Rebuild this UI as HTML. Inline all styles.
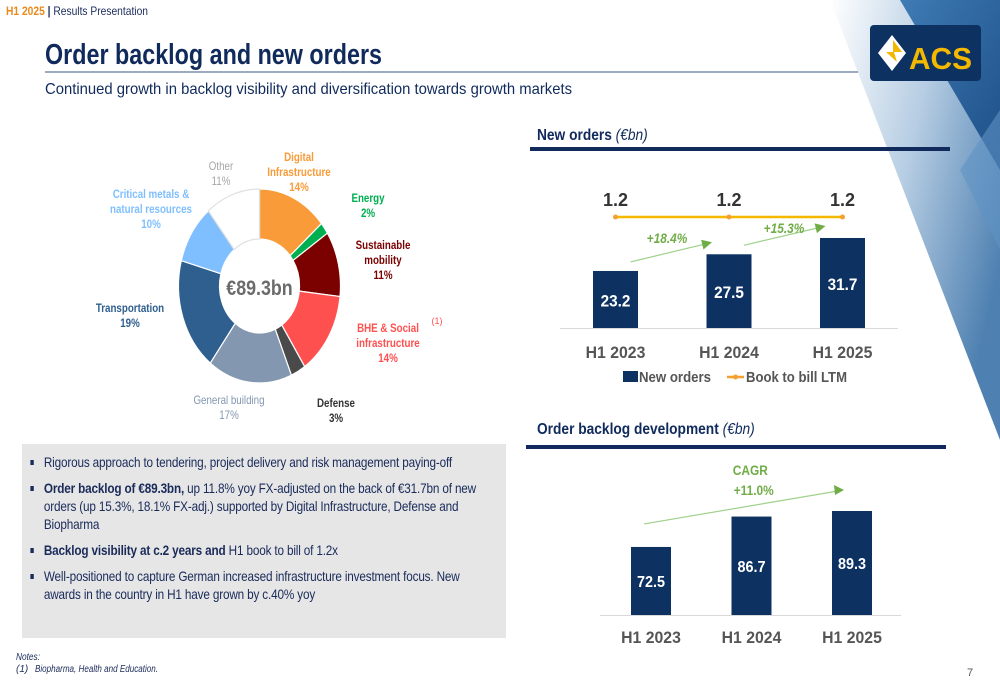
<!DOCTYPE html>
<html><head><meta charset="utf-8">
<style>
html,body{margin:0;padding:0;background:#fff;}
#page{position:relative;width:1000px;height:685px;overflow:hidden;font-family:"Liberation Sans",sans-serif;}
svg text{font-family:"Liberation Sans",sans-serif;}
#bullets{position:absolute;left:22px;top:444px;width:484px;height:194px;background:#e6e6e6;overflow:hidden;}
#bullets ul{margin:0;padding:9px 0 0 0;list-style:none;width:548px;transform:scaleX(0.84);transform-origin:0 0;}
#bullets li{position:relative;padding-left:26px;font-size:14px;line-height:18px;color:#1a2b5a;margin-bottom:8px;letter-spacing:-0.2px;}
#bullets li:before{content:"";position:absolute;left:10px;top:7px;width:4px;height:5px;background:#1a2b5a;}
#bullets b{font-weight:bold;}
</style></head>
<body>
<div id="page">
<svg id="svg" width="1000" height="685" viewBox="0 0 1000 685" style="position:absolute;left:0;top:0">
<defs>
<linearGradient id="g1" x1="0" y1="0" x2="1" y2="0.6">
<stop offset="0" stop-color="#ffffff"/><stop offset="0.5" stop-color="#a9c4de"/><stop offset="1" stop-color="#2f6aa3"/>
</linearGradient>
<linearGradient id="g2" x1="0" y1="0" x2="1" y2="1">
<stop offset="0" stop-color="#3f7bb5"/><stop offset="1" stop-color="#1d4f86"/>
</linearGradient>
</defs>
<g>
<polygon points="830,0 1000,0 1000,440" fill="url(#g1)" opacity="0.85"/>
<polygon points="900,0 1000,0 1000,170" fill="url(#g2)"/>
<polygon points="960,170 1000,110 1000,250" fill="#5f92c4" opacity="0.6"/>
</g>
<text x="6" y="15" font-size="12" font-weight="bold" fill="#e98a1c" textLength="142" lengthAdjust="spacingAndGlyphs">H1 2025 <tspan fill="#1a2b5a">| </tspan><tspan fill="#1a2b5a" font-weight="normal">Results Presentation</tspan></text>
<text x="45" y="64" font-size="29" font-weight="bold" fill="#102a5c" textLength="337" lengthAdjust="spacingAndGlyphs">Order backlog and new orders</text>
<line x1="45" y1="72" x2="858" y2="72" stroke="#7d8fab" stroke-width="1.5"/>
<text x="45" y="94" font-size="16" fill="#102a5c" textLength="527" lengthAdjust="spacingAndGlyphs">Continued growth in backlog visibility and diversification towards growth markets</text>
<g>
<rect x="870" y="25" width="111" height="56" rx="4" fill="#0d3262"/>
<polygon points="892,35 906,53 892,71 878,53" fill="#fff"/>
<polygon points="893,40 902,52 894,52 897,62 886,52 893,52" fill="#f5b800"/>
<text x="909" y="69" font-size="31" font-weight="bold" fill="#f5b800" textLength="63" lengthAdjust="spacingAndGlyphs">ACS</text>
</g>
<g id="donut"></g>
<g id="newOrders"></g>
<g id="backlog"></g>
<text x="16" y="660" font-size="10" font-style="italic" fill="#1a2b5a" textLength="24" lengthAdjust="spacingAndGlyphs">Notes:</text>
<text x="16" y="672" font-size="10" font-style="italic" fill="#1a2b5a">(1)<tspan x="35" textLength="123" lengthAdjust="spacingAndGlyphs">Biopharma, Health and Education.</tspan></text>
<text x="967" y="676" font-size="11" fill="#555">7</text>
</svg>
<div id="bullets">
<ul>
<li>Rigorous approach to tendering, project delivery and risk management paying-off</li>
<li><b>Order backlog of €89.3bn,</b> up 11.8% yoy FX-adjusted on the back of €31.7bn of new orders (up 15.3%, 18.1% FX-adj.) supported by Digital Infrastructure, Defense and Biopharma</li>
<li><b>Backlog visibility at c.2 years and</b> H1 book to bill of 1.2x</li>
<li>Well-positioned to capture German increased infrastructure investment focus. New awards in the country in H1 have grown by c.40% yoy</li>
</ul>
</div>
</div>
<script>
const NS="http://www.w3.org/2000/svg";
function mk(tag,attrs,parent,txt){const e=document.createElementNS(NS,tag);for(const k in attrs)e.setAttribute(k,attrs[k]);if(txt!==undefined)e.textContent=txt;parent.appendChild(e);return e;}
function cond(el,x,s){el.setAttribute('transform',`translate(${x},0) scale(${s},1) translate(${-x},0)`);}

// ---- Donut data ----
const segNames=["Digital Infrastructure","Energy","Sustainable mobility","BHE & Social infrastructure","Defense","General building","Transportation","Critical metals & natural resources","Other"];
const segValues=[14,2,11,14,3,17,19,10,11];
const segColors=["#f99b38","#00b050","#7b0000","#ff5050","#4a4a4a","#8497b0","#2f5f8f","#7fbfff","#ffffff"];
const segLabelLines=[["Digital","Infrastructure","14%"],["Energy","2%"],["Sustainable","mobility","11%"],["BHE & Social","infrastructure","14%"],["Defense","3%"],["General building","17%"],["Transportation","19%"],["Critical metals &","natural resources","10%"],["Other","11%"]];
const segLabelColors=["#f99b38","#00b050","#7b0000","#ff5050","#333","#8497b0","#2f5f8f","#7fbfff","#a6a6a6"];
const segLabelPos=[[299,157],[368,198],[383,245],[388,328],[336,403],[229,400],[130,308],[151,194],[221,166]];
const donutCenter="€89.3bn";

// ---- New orders data ----
const noCats=["H1 2023","H1 2024","H1 2025"];
const noValues=[23.2,27.5,31.7];
const btbValues=[1.2,1.2,1.2];
const noGrowth=["+18.4%","+15.3%"];

// ---- Backlog data ----
const blCats=["H1 2023","H1 2024","H1 2025"];
const blValues=[72.5,86.7,89.3];
const blCagr="+11.0%";

(function(){
 const g=document.getElementById('donut');
 const cx=259.5,cy=286,rx=81,ry=97,irx=40,iry=47;
 const tot=segValues.reduce((a,b)=>a+b,0);
 let a0=0;
 segValues.forEach((v,i)=>{
  const a1=a0+v/tot*2*Math.PI;
  const p=(a,r1,r2)=>[cx+r1*Math.sin(a),cy-r2*Math.cos(a)];
  const large=(a1-a0)>Math.PI?1:0;
  const o0=p(a0,rx,ry),o1=p(a1,rx,ry),i1=p(a1,irx,iry),i0=p(a0,irx,iry);
  const d=`M${o0[0]},${o0[1]} A${rx},${ry} 0 ${large} 1 ${o1[0]},${o1[1]} L${i1[0]},${i1[1]} A${irx},${iry} 0 ${large} 0 ${i0[0]},${i0[1]} Z`;
  const s=mk('path',{d:d,fill:segColors[i],stroke:i==8?'#e0e0e0':'#fff','stroke-width':1.2},g);
  
  
  a0=a1;
 });
 const c=mk('text',{x:cx,y:cy+9,'font-size':21,'font-weight':'bold',fill:'#6b6b6b','text-anchor':'middle'},g,donutCenter);
 
 
 cond(c,cx,0.85);
 segLabelLines.forEach((lines,i)=>{
  const t=mk('text',{x:segLabelPos[i][0],y:segLabelPos[i][1]+4,'font-size':11.5,'font-weight':i==8||i==5?'normal':'bold',fill:segLabelColors[i],'text-anchor':'middle'},g);
  
  
  lines.forEach((l,j)=>mk('tspan',{x:segLabelPos[i][0],dy:j?15:0},t,l));
  cond(t,segLabelPos[i][0],0.85);
 });
 const f=mk('text',{x:437,y:324,'font-size':9,fill:'#ff5050','text-anchor':'middle'},g,"(1)");
 
 
})();

(function(){
 const g=document.getElementById('newOrders');
 const t=mk('text',{x:537,y:140,'font-size':16,'font-weight':'bold',fill:'#102a5c'},g);
 
 
 mk('tspan',{},t,"New orders ");mk('tspan',{'font-style':'italic','font-weight':'normal'},t,"(€bn)");
 cond(t,537,0.86);
 const r=mk('rect',{x:530,y:147,width:420,height:4,fill:'#102a5c'},g);
 
 
 const base=328,minV=8.5,k=3.88;
 const y=v=>base-(v-minV)*k;
 const xc=i=>615.5+i*113.5;
 const bw=45;
 const ax=mk('line',{x1:560,y1:base+0.5,x2:898,y2:base+0.5,stroke:'#d9d9d9','stroke-width':1},g);
 
 
 noValues.forEach((v,i)=>{
  const b=mk('rect',{x:xc(i)-bw/2,y:y(v),width:bw,height:base-y(v),fill:'#0d3262'},g);
  
  
  const l=mk('text',{x:xc(i),y:(y(v)+base)/2+7,'font-size':17,'font-weight':'bold',fill:'#fff','text-anchor':'middle'},g,v.toFixed(1));
  
  
  cond(l,xc(i),0.9);
  const c=mk('text',{x:xc(i),y:358,'font-size':17,'font-weight':'bold',fill:'#555','text-anchor':'middle'},g,noCats[i]);
  
  
  cond(c,xc(i),0.93);
 });
 const by=v=>217-(v-1.2)*60;
 const pts=btbValues.map((v,i)=>xc(i)+','+by(v)).join(' ');
 const pl=mk('polyline',{points:pts,fill:'none',stroke:'#f5b800','stroke-width':2.5},g);
 
 
 btbValues.forEach((v,i)=>{
  const d=mk('circle',{cx:xc(i),cy:by(v),r:2.5,fill:'#f5a030'},g);
  
  
  const l=mk('text',{x:xc(i),y:by(v)-11,'font-size':18,'font-weight':'bold',fill:'#333','text-anchor':'middle'},g,v.toFixed(1));
  
  
 });
 const gl=[[667,243],[784,233]];
 noGrowth.forEach((s,i)=>{
  const x1=xc(i)+15,y1=y(noValues[i])-9,x2=xc(i+1)-17,y2=y(noValues[i+1])-12;
  const ln=mk('line',{x1:x1,y1:y1,x2:x2-6,y2:y2+1.5,stroke:'#9fd18a','stroke-width':1.2},g);
  
  
  const ang=Math.atan2(y2-y1,x2-x1);
  const hx=x2,hy=y2;
  const pA=[hx-10*Math.cos(ang)+5*Math.sin(ang),hy-10*Math.sin(ang)-5*Math.cos(ang)];
  const pB=[hx-10*Math.cos(ang)-5*Math.sin(ang),hy-10*Math.sin(ang)+5*Math.cos(ang)];
  mk('polygon',{points:`${hx},${hy} ${pA} ${pB}`,fill:'#70ad47'},g);
  const l=mk('text',{x:gl[i][0],y:gl[i][1],'font-size':14,'font-weight':'bold','font-style':'italic',fill:'#70ad47','text-anchor':'middle'},g,s);
  
  
  cond(l,gl[i][0],0.85);
 });
 const lg=mk('g',{},g);
 
 
 mk('rect',{x:623,y:371,width:15,height:11,fill:'#0d3262'},lg);
 mk('text',{x:639,y:382,'font-size':15,'font-weight':'bold',fill:'#555',textLength:72,lengthAdjust:'spacingAndGlyphs'},lg,"New orders");
 mk('line',{x1:727,y1:377,x2:744,y2:377,stroke:'#f5a030','stroke-width':2.5},lg);
 mk('circle',{cx:735.5,cy:377,r:2.5,fill:'#f5a030'},lg);
 mk('text',{x:746,y:382,'font-size':15,'font-weight':'bold',fill:'#555',textLength:101,lengthAdjust:'spacingAndGlyphs'},lg,"Book to bill LTM");
})();

(function(){
 const g=document.getElementById('backlog');
 const t=mk('text',{x:537,y:434,'font-size':16,'font-weight':'bold',fill:'#102a5c'},g);
 
 
 mk('tspan',{},t,"Order backlog development ");mk('tspan',{'font-style':'italic','font-weight':'normal'},t,"(€bn)");
 cond(t,537,0.86);
 const r=mk('rect',{x:526,y:445,width:420,height:4,fill:'#102a5c'},g);
 
 
 const base=615,minV=40.7,k=2.14;
 const y=v=>base-(v-minV)*k;
 const xc=i=>651+i*100.5;
 const bw=40;
 const ax=mk('line',{x1:600,y1:base+0.5,x2:901,y2:base+0.5,stroke:'#d9d9d9','stroke-width':1},g);
 
 
 blValues.forEach((v,i)=>{
  const b=mk('rect',{x:xc(i)-bw/2,y:y(v),width:bw,height:base-y(v),fill:'#0d3262'},g);
  
  
  const l=mk('text',{x:xc(i),y:(y(v)+base)/2+6,'font-size':16,'font-weight':'bold',fill:'#fff','text-anchor':'middle'},g,v.toFixed(1));
  
  
  cond(l,xc(i),0.9);
  const c=mk('text',{x:xc(i),y:643,'font-size':17,'font-weight':'bold',fill:'#555','text-anchor':'middle'},g,blCats[i]);
  
  
  cond(c,xc(i),0.93);
 });
 const x1=xc(0)-7,y1=y(blValues[0])-23,x2=xc(2)-8,y2=y(blValues[2])-21;
 const ln=mk('line',{x1:x1,y1:y1,x2:x2-6,y2:y2+1,stroke:'#9fd18a','stroke-width':1.2},g);
 
 
 mk('polygon',{points:`${x2},${y2} ${x2-10},${y2-5} ${x2-9},${y2+5}`,fill:'#70ad47'},g);
 const l=mk('text',{x:750,y:475,'font-size':14,'font-weight':'bold',fill:'#70ad47','text-anchor':'middle'},g);
 
 
 mk('tspan',{x:750,dy:0},l,"CAGR");mk('tspan',{x:754,dy:20},l,blCagr);
 cond(l,752,0.85);
})();
</script>
</body></html>
